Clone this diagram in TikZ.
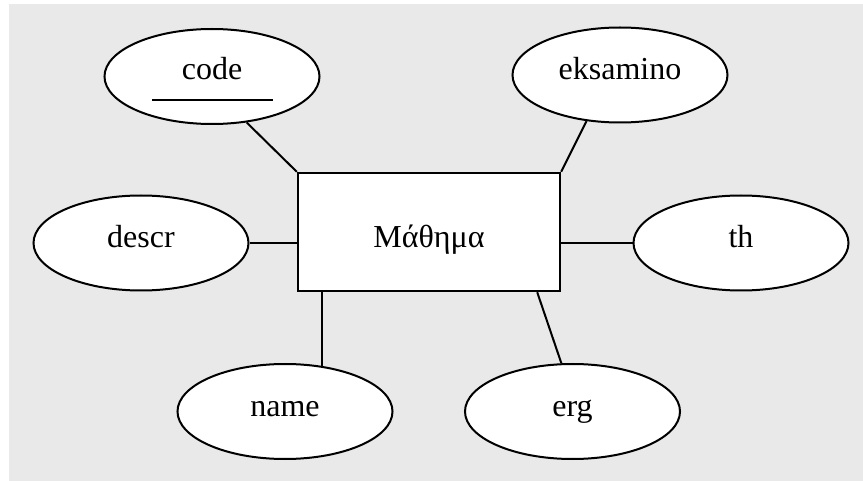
\documentclass[tikz,border=0pt]{standalone}
\usepackage{fontspec}
\setmainfont{Liberation Serif}
\usetikzlibrary{shapes.geometric}
\definecolor{bggray}{RGB}{233,233,233}

\begin{document}
\begin{tikzpicture}[x=1pt,y=-1pt,
  attr/.style={ellipse,draw,fill=white,line width=2pt,inner sep=0pt,
    minimum width=215pt,minimum height=95pt,text height=20pt,text depth=10pt},
  ent/.style={rectangle,draw,fill=white,line width=2.4pt,inner sep=0pt,
    minimum width=262pt,minimum height=118pt,text height=32pt,text depth=0pt},
  conn/.style={line width=2pt}]
\useasboundingbox (0,0) rectangle (863,481);
\fill[bggray] (9,4) rectangle (863,481);
\node[ent] (mathima) at (429,232) {\fontsize{32}{38}\selectfont Μάθημα};
\node[attr,text height=17pt] (code) at (212,76.5) {\fontsize{32}{38}\selectfont code};
\node[attr] (eksamino) at (620,75) {\fontsize{32}{38}\selectfont eksamino};
\node[attr] (descr) at (141,243) {\fontsize{32}{38}\selectfont descr};
\node[attr] (th) at (741,243) {\fontsize{32}{38}\selectfont th};
\node[attr] (name) at (285,411.5) {\fontsize{32}{38}\selectfont name};
\node[attr] (erg) at (572.5,411.5) {\fontsize{32}{38}\selectfont erg};
\draw[conn] ([xshift=-60pt,yshift=-23.5pt]code.center) -- ++(121,0);
\draw[conn] (code.-53) -- (mathima.north west);
\draw[conn] (eksamino.-126) -- (mathima.north east);
\draw[conn] (descr.east) -- (descr.east -| mathima.west);
\draw[conn] (th.west -| mathima.east) -- (th.west);
\draw[conn] (name.51.5) -- (name.51.5 |- mathima.south);
\draw[conn] ([xshift=-24pt]mathima.south east) -- (erg.103);
\end{tikzpicture}
\end{document}
